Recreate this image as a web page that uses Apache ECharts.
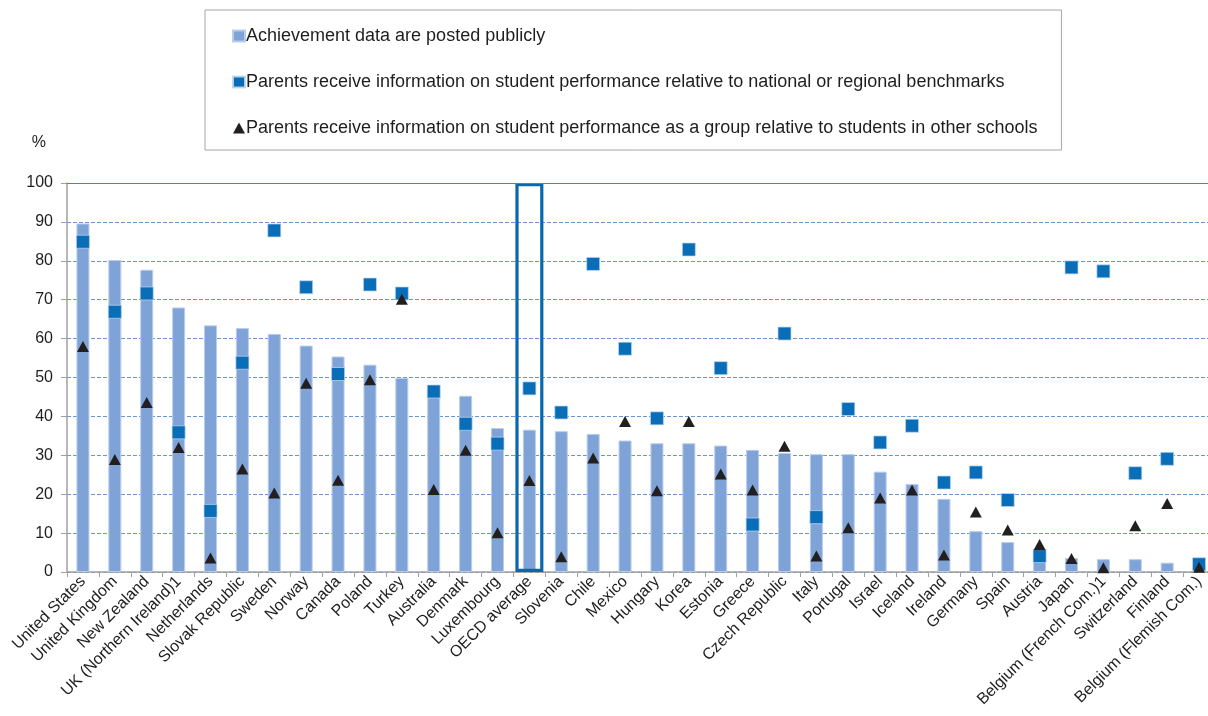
<!DOCTYPE html>
<html>
<head>
<meta charset="utf-8">
<style>
  html, body { margin: 0; padding: 0; background: #ffffff; }
  #chart { width: 1208px; height: 716px; }
</style>
<script src="https://cdn.jsdelivr.net/npm/echarts@6/dist/echarts.min.js"></script>
</head>
<body>
<div id="chart"></div>
<script>
// Countries, ordered by share of students whose achievement data are posted publicly
const categories = [
  'United States', 'United Kingdom', 'New Zealand', 'UK (Northern Ireland)1', 'Netherlands',
  'Slovak Republic', 'Sweden', 'Norway', 'Canada', 'Poland', 'Turkey', 'Australia',
  'Denmark', 'Luxembourg', 'OECD average', 'Slovenia', 'Chile', 'Mexico', 'Hungary',
  'Korea', 'Estonia', 'Greece', 'Czech Republic', 'Italy', 'Portugal', 'Israel',
  'Iceland', 'Ireland', 'Germany', 'Spain', 'Austria', 'Japan',
  'Belgium (French Com.)1', 'Switzerland', 'Finland', 'Belgium (Flemish Com.)'
];

// Achievement data are posted publicly (%)
const postedPublicly = [
  89.6, 80.2, 77.7, 68.0, 63.4, 62.7, 61.2, 58.2, 55.4, 53.3, 49.9, 46.7,
  45.3, 37.0, 36.6, 36.2, 35.5, 33.8, 33.1, 33.1, 32.5, 31.4, 30.6, 30.3,
  30.3, 25.8, 22.6, 18.8, 10.5, 7.7, 4.5, 3.6, 3.3, 3.3, 2.4, 2.0
];

// Parents receive information relative to national or regional benchmarks (%)
const benchmarks = [
  84.9, 66.9, 71.6, 35.9, 15.7, 53.8, 87.8, 73.2, 50.9, 73.9, 71.6, 46.4,
  38.1, 33.0, 47.2, 41.0, 79.2, 57.4, 39.5, 82.9, 52.4, 12.2, 61.3, 14.1,
  41.9, 33.3, 37.6, 23.0, 25.6, 18.5, 4.1, 78.3, 77.3, 25.4, 29.1, 2.0
];

// Parents receive information on performance as a group relative to other schools (%)
const otherSchools = [
  58.0, 28.9, 43.6, 32.0, 3.6, 26.5, 20.3, 48.5, 23.6, 49.4, 70.1, 21.2,
  31.3, 10.1, 23.5, 3.9, 29.3, 38.7, 20.9, 38.7, 25.2, 21.1, 32.3, 4.1,
  11.4, 19.0, 21.1, 4.4, 15.4, 10.8, 7.1, 3.5, 1.1, 11.9, 17.6, 1.2
];

const yTicks = { min: 0, max: 100, interval: 10 };
const highlighted = 'OECD average';

const seriesNames = [
  'Achievement data are posted publicly',
  'Parents receive information on student performance relative to national or regional benchmarks',
  'Parents receive information on student performance as a group relative to students in other schools'
];

const FONT = '"Liberation Sans", Arial, sans-serif';
const TEXT = '#1e1e1e';

// Frame around the highlighted category spans the full value range
const frameData = categories.map(c => (c === highlighted ? yTicks.max : '-'));

const chart = echarts.init(document.getElementById('chart'), null, { renderer: 'canvas' });

chart.setOption({
  animation: false,
  backgroundColor: '#ffffff',
  textStyle: { fontFamily: FONT },
  legend: {
    orient: 'vertical',
    left: 205,
    top: 10,
    padding: [17, 24, 13, 27],
    itemGap: 28,
    itemWidth: 12,
    itemHeight: 11,
    borderColor: '#a6a6a6',
    borderWidth: 1,
    textStyle: { fontFamily: FONT, fontSize: 18, color: TEXT, padding: [0, 0, 0, -4] },
    data: [
      { name: seriesNames[0], icon: 'rect' },
      { name: seriesNames[1], icon: 'rect' },
      { name: seriesNames[2], icon: 'triangle' }
    ]
  },
  grid: {
    left: 67, top: 183, width: 1148, height: 389,
    containLabel: false,
    outerBoundsMode: 'none'
  },
  xAxis: [
    {
      type: 'category',
      data: categories,
      boundaryGap: true,
      axisLine: { show: true, lineStyle: { color: '#a0a0a0', width: 1.5 } },
      axisTick: { show: true, alignWithLabel: false, length: 5, lineStyle: { color: '#a0a0a0' } },
      axisLabel: {
        interval: 0, rotate: 45, margin: 7,
        fontFamily: FONT, fontSize: 16, color: TEXT
      },
      splitLine: { show: false }
    },
    {
      type: 'category',
      data: categories,
      boundaryGap: true,
      show: false
    }
  ],
  yAxis: {
    type: 'value',
    min: yTicks.min,
    max: yTicks.max,
    interval: yTicks.interval,
    name: '%',
    nameLocation: 'end',
    nameGap: 32,
    nameTextStyle: { fontFamily: FONT, fontSize: 16, color: TEXT, align: 'right', padding: [0, 21, 0, 0] },
    axisLine: { show: true, lineStyle: { color: '#a0a0a0', width: 1.5 } },
    axisTick: { show: true, inside: false, length: 6, lineStyle: { color: '#a0a0a0' } },
    axisLabel: { margin: 14, fontFamily: FONT, fontSize: 16, color: TEXT },
    splitLine: { show: true, lineStyle: { color: '#6b95d6', width: 1, type: [4, 2] } }
  },
  series: [
    {
      name: seriesNames[0],
      type: 'bar',
      data: postedPublicly,
      barWidth: 13,
      itemStyle: { color: '#7fa3d6', borderColor: '#b9cdea', borderWidth: 1 },
      z: 2,
      markLine: {
        silent: true,
        symbol: 'none',
        label: { show: false },
        lineStyle: { color: '#4f7ec4', type: 'solid', width: 1.2 },
        data: [{ yAxis: yTicks.max }]
      }
    },
    {
      name: 'frame',
      type: 'bar',
      xAxisIndex: 1,
      data: frameData,
      barWidth: 28,
      itemStyle: { color: 'rgba(0,0,0,0)', borderColor: '#0a67ad', borderWidth: 3.2 },
      z: 3,
      silent: true
    },
    {
      name: seriesNames[1],
      type: 'scatter',
      data: benchmarks,
      symbol: 'rect',
      symbolSize: 13,
      itemStyle: { color: '#0a6db8', opacity: 1, borderColor: 'rgba(190,215,240,0.9)', borderWidth: 0.8 },
      z: 4
    },
    {
      name: seriesNames[2],
      type: 'scatter',
      data: otherSchools,
      symbol: 'triangle',
      symbolSize: [12, 11],
      itemStyle: { color: '#231f20', opacity: 1 },
      z: 5
    }
  ]
});
</script>
</body>
</html>
